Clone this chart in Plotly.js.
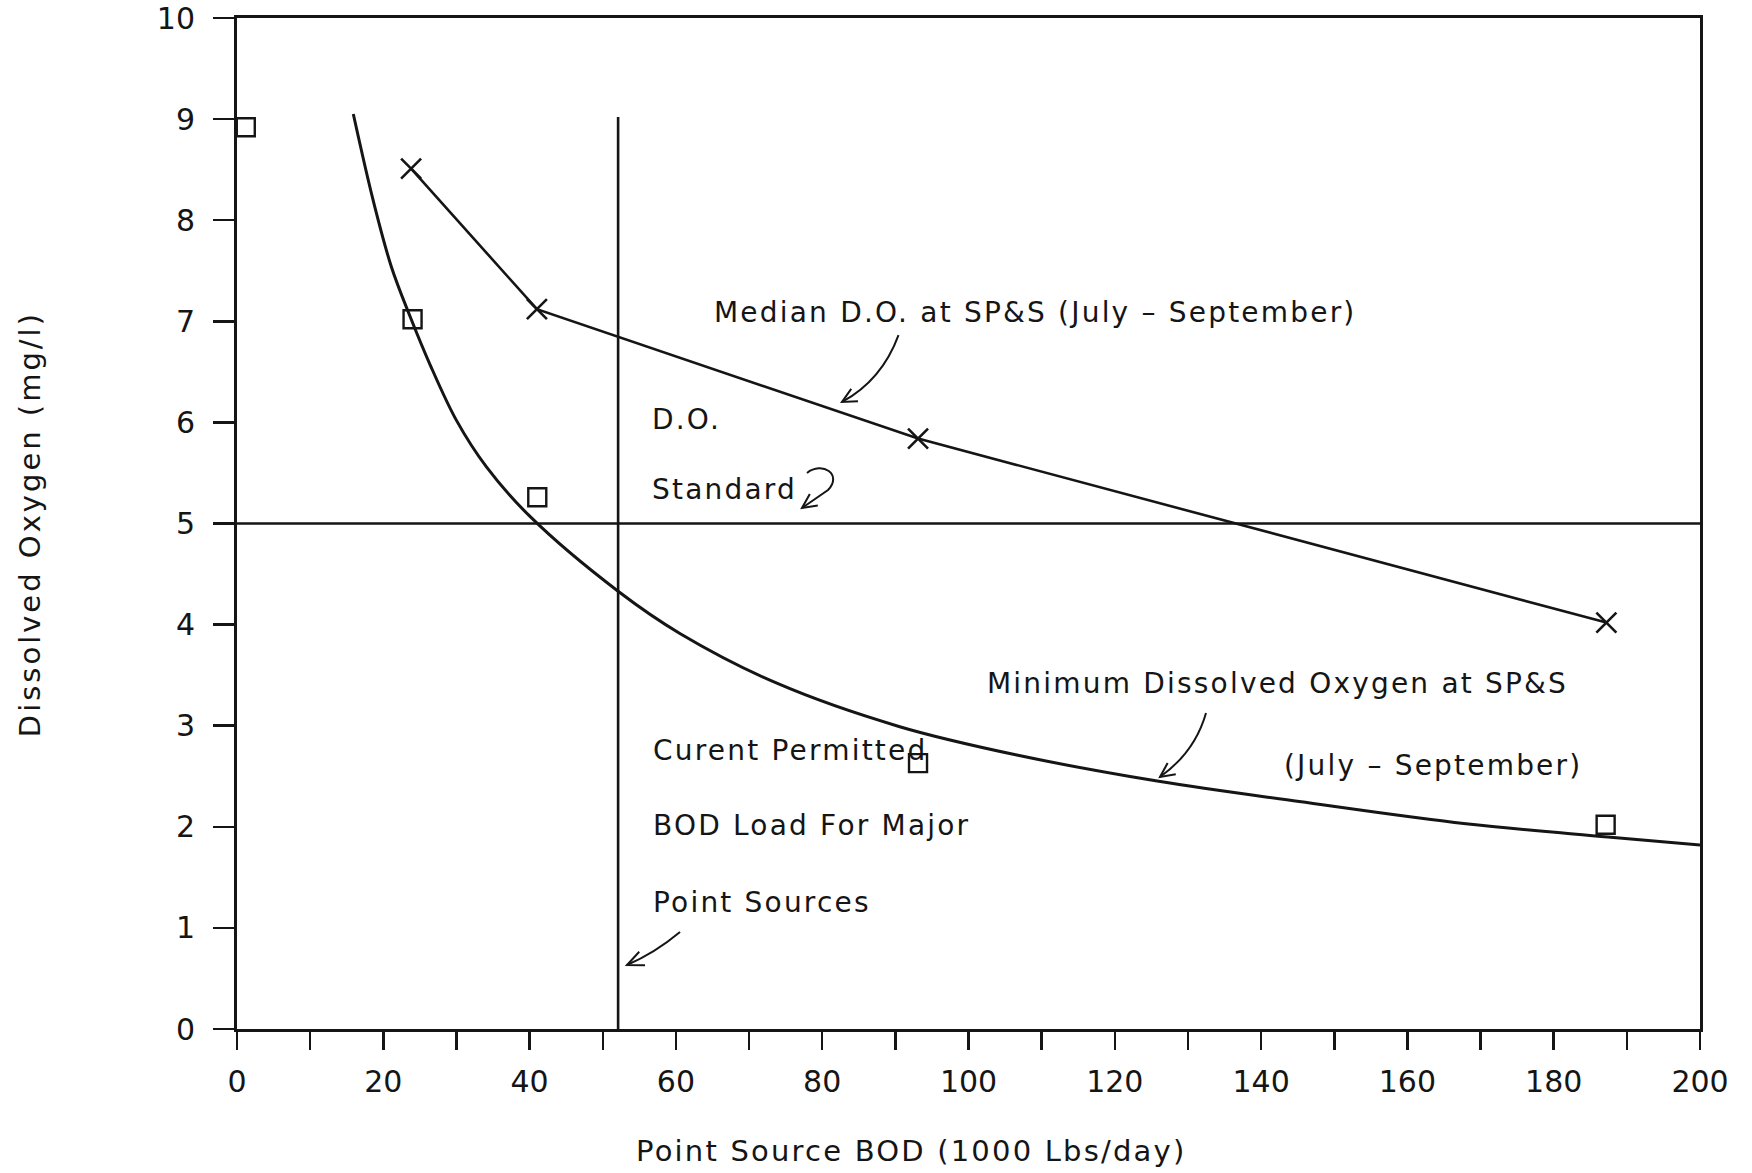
<!DOCTYPE html>
<html>
<head>
<meta charset="utf-8">
<script src="https://cdn.plot.ly/plotly-3.0.1.min.js"></script>
<style>
  html, body { margin: 0; padding: 0; background: #fff; }
  #chart { width: 1752px; height: 1173px; }
  .annotation-text { letter-spacing: 2.2px; }
  .annotation[data-index="8"] .annotation-text { letter-spacing: 3px; }
</style>
</head>
<body>
<div id="chart"></div>
<script>
// ---- Data ----
// Open squares (observed minimum D.O.)
const squareX = [1.2, 24.0, 41.05, 93.1, 187.1];
const squareY = [8.92, 7.02, 5.26, 2.63, 2.02];

// X markers: Median D.O. at SP&S (July - September)
const medianX = [23.8, 41.0, 93.1, 187.2];
const medianY = [8.51, 7.12, 5.84, 4.02];

// Smooth curve: Minimum Dissolved Oxygen at SP&S
const minCurveX = [15.9, 18.6, 21.1, 23.65, 26.4, 30.0, 34.1, 40.05, 52.1, 60.6, 73.8, 90.6, 106.6, 126, 145.2, 168, 187.4, 200];
const minCurveY = [9.05, 8.20, 7.54, 7.05, 6.57, 6.02, 5.56, 5.07, 4.33, 3.91, 3.42, 2.99, 2.71, 2.45, 2.25, 2.03, 1.90, 1.82];

// Reference lines
const doStandard = 5;            // D.O. standard (mg/l)
const permittedLoad = 52.1;      // current permitted BOD load (1000 lbs/day)
const permittedLineTop = 9.02;

// Axis ranges
const xRange = [0, 200];
const yRange = [0, 10];

// ---- Layout geometry (pixels) ----
const W = 1752, H = 1173;
const M = { l: 237, r: 52, t: 18, b: 144 };
const PW = W - M.l - M.r, PH = H - M.t - M.b;

function px2d(px, py) {
  return [xRange[0] + (px - M.l) / PW * (xRange[1] - xRange[0]),
          yRange[0] + (M.t + PH - py) / PH * (yRange[1] - yRange[0])];
}
function P(px, py) { const d = px2d(px, py); return d[0].toFixed(3) + ',' + d[1].toFixed(3); }

function head(tip, from, len, angDeg) {
  const dx = from[0] - tip[0], dy = from[1] - tip[1];
  const n = Math.hypot(dx, dy);
  const ux = dx / n, uy = dy / n;
  const a = angDeg * Math.PI / 180;
  const r = (s) => [tip[0] + len * (ux * Math.cos(s * a) - uy * Math.sin(s * a)),
                    tip[1] + len * (ux * Math.sin(s * a) + uy * Math.cos(s * a))];
  const p1 = r(1), p2 = r(-1);
  return 'M' + P(p1[0], p1[1]) + ' L' + P(tip[0], tip[1]) + ' L' + P(p2[0], p2[1]);
}

const ink = '#151515';
const arrowLine = { color: ink, width: 2 };

const arrowBodies = [
  'M' + P(898.5, 335) + ' Q' + P(882, 380) + ' ' + P(842, 402),
  'M' + P(807, 473) + ' C' + P(822, 461) + ' ' + P(843, 474) + ' ' + P(828, 490) + ' L' + P(802, 508),
  'M' + P(1206, 713) + ' Q' + P(1195, 752) + ' ' + P(1160, 777),
  'M' + P(680, 932) + ' Q' + P(655, 953) + ' ' + P(627, 965)
];
const arrowHeads = [
  head([842, 402], [882, 380], 16, 26),
  head([802, 508], [828, 490], 16, 26),
  head([1160, 777], [1195, 752], 16, 26),
  head([627, 965], [655, 953], 18, 24)
];

const shapes = [];
arrowBodies.concat(arrowHeads).forEach(p => shapes.push({
  type: 'path', xref: 'x', yref: 'y', path: p, line: arrowLine, fillcolor: 'rgba(0,0,0,0)'
}));

const txtFont = { family: 'DejaVu Sans, sans-serif', size: 28, color: ink };
function note(text, px, py) {
  const d = px2d(px, py);
  return { text: text, x: d[0], y: d[1], xref: 'x', yref: 'y', xanchor: 'left', yanchor: 'middle',
           showarrow: false, font: txtFont, borderpad: 0 };
}

const annotations = [
  note('Median D.O. at SP&amp;S (July – September)', 713, 312),
  note('D.O.', 651, 419),
  note('Standard', 651, 489),
  note('Curent Permitted', 652, 750),
  note('BOD Load For Major', 652, 825),
  note('Point Sources', 652, 902),
  note('Minimum Dissolved Oxygen at SP&amp;S', 986, 683),
  note('(July – September)', 1283, 765),
  { text: 'Dissolved Oxygen (mg/l)', xref: 'paper', yref: 'paper',
    x: (30 - M.l) / PW, y: (M.t + PH - 524) / PH, xanchor: 'center', yanchor: 'middle',
    textangle: -90, showarrow: false, font: { family: 'DejaVu Sans, sans-serif', size: 29, color: ink } },
  { text: 'Point Source BOD (1000 Lbs/day)', xref: 'paper', yref: 'paper',
    x: (911 - M.l) / PW, y: (M.t + PH - 1151) / PH, xanchor: 'center', yanchor: 'middle',
    showarrow: false, font: { family: 'DejaVu Sans, sans-serif', size: 29, color: ink } }
];

const traces = [
  { x: [xRange[0], xRange[1]], y: [doStandard, doStandard], mode: 'lines',
    line: { color: ink, width: 2.6 }, hoverinfo: 'skip' },
  { x: [permittedLoad, permittedLoad], y: [yRange[0], permittedLineTop], mode: 'lines',
    line: { color: ink, width: 2.6 }, hoverinfo: 'skip' },
  { x: minCurveX, y: minCurveY, mode: 'lines',
    line: { color: ink, width: 3, shape: 'spline', smoothing: 1 } },
  { x: medianX, y: medianY, mode: 'lines+markers',
    line: { color: ink, width: 2.6 },
    marker: { symbol: 'x-thin-open', size: 20, color: ink, line: { color: ink, width: 2.6 } } },
  { x: squareX, y: squareY, mode: 'markers',
    marker: { symbol: 'square-open', size: 18, color: ink, line: { color: ink, width: 2.4 } },
    cliponaxis: false }
];

const tickFont = { family: 'DejaVu Sans, sans-serif', size: 30, color: ink };

const layout = {
  width: W, height: H,
  margin: { l: M.l, r: M.r, t: M.t, b: M.b, pad: 0 },
  paper_bgcolor: '#ffffff', plot_bgcolor: '#ffffff',
  showlegend: false,
  xaxis: {
    range: xRange, tick0: 0, dtick: 20, ticks: 'outside', ticklen: 18, tickwidth: 2.5, tickcolor: ink,
    minor: { dtick: 10, ticks: 'outside', ticklen: 18, tickwidth: 2.5, tickcolor: ink, showgrid: false },
    showline: true, linecolor: ink, linewidth: 3, mirror: true,
    showgrid: false, zeroline: false, tickfont: tickFont, ticklabelstandoff: 6, fixedrange: true
  },
  yaxis: {
    range: yRange, tick0: 0, dtick: 1, ticks: 'outside', ticklen: 21, tickwidth: 2.5, tickcolor: ink,
    showline: true, linecolor: ink, linewidth: 3, mirror: true,
    showgrid: false, zeroline: false, tickfont: tickFont, ticklabelstandoff: 12, fixedrange: true
  },
  shapes: shapes,
  annotations: annotations
};

Plotly.newPlot('chart', traces, layout, { displayModeBar: false, staticPlot: true });
</script>
</body>
</html>
